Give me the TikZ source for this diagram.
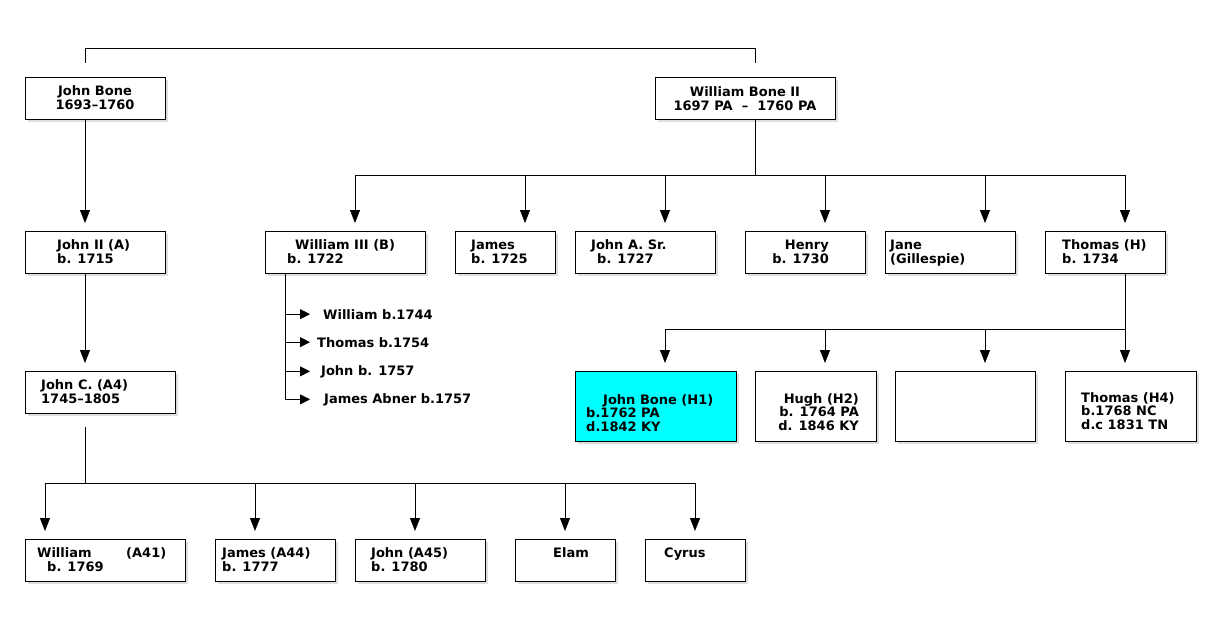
\documentclass[tikz,border=0pt]{standalone}
\usepackage{fontspec}
\setmainfont{DejaVu Sans}
\usetikzlibrary{arrows.meta,shadows,calc}
\definecolor{hilite}{HTML}{00FFFF}
\tikzset{
  box/.style={draw, line width=0.8pt, fill=white, anchor=north west, inner sep=0pt, outer sep=0pt,
    minimum height=42pt, drop shadow={shadow xshift=3pt, shadow yshift=-3pt, fill=black!25}},
  tall/.style={box, minimum height=70pt},
  txt/.style={font=\fontsize{13}{13.5}\selectfont\bfseries, inner sep=0pt, align=left, anchor=base west},
  txtc/.style={txt, align=center, anchor=base},
  txtr/.style={txt, align=right, anchor=base east},
  link/.style={line width=0.8pt},
  arr/.style={link, -{Triangle[length=13pt,width=10pt]}, shorten >=8pt},
  sarr/.style={link, -{Triangle[length=10pt,width=10pt]}}
}
\begin{document}
\begin{tikzpicture}[x=1pt,y=-1pt]
			%%%%% START %%%%%
			\useasboundingbox[fill=white] (0,0) rectangle (1220,616);
			
			% boxes
			\node[box, minimum width=140pt] (jb) at (25,77) {};
			\node[box, minimum width=180pt] (wb) at (655,77) {};
			\node[box, minimum width=140pt] (j2) at (25,231) {};
			\node[box, minimum width=150pt] (jc) at (25,371) {};
			\node[box, minimum width=160pt] (w3) at (265,231) {};
			\node[box, minimum width=100pt] (jm) at (455,231) {};
			\node[box, minimum width=140pt] (ja) at (575,231) {};
			\node[box, minimum width=120pt] (he) at (745,231) {};
			\node[box, minimum width=130pt] (jn) at (885,231) {};
			\node[box, minimum width=120pt] (th) at (1045,231) {};
			\node[tall, minimum width=161pt, fill=hilite] (h1) at (575,371) {};
			\node[tall, minimum width=121pt] (hu) at (755,371) {};
			\node[tall, minimum width=140pt] (ee) at (895,371) {};
			\node[tall, minimum width=131pt] (t4) at (1065,371) {};
			\node[box, minimum width=160pt] (wa) at (25,539) {};
			\node[box, minimum width=120pt] (jo) at (215,539) {};
			\node[box, minimum width=130pt] (jx) at (355,539) {};
			\node[box, minimum width=100pt] (el) at (515,539) {};
			\node[box, minimum width=100pt] (cy) at (645,539) {};
			
			% texts (placed by the baseline of their last line)
			\node[txtc] (jbt) at (95,109) {John Bone\\1693--1760};
			\node[txtc] (wbt) at (745,110) {William Bone II\\1697 PA\ \ --\ \ 1760 PA};
			\node[txt] (j2t) at (57,263) {John II (A)\\b. 1715};
			\node[txt] (jct) at (41,403) {John C. (A4)\\1745--1805};
			\node[txt] (w3t) at (287,263) {\hspace*{8pt}William III (B)\\b. 1722};
			\node[txt] (jmt) at (471,263) {James\\b. 1725};
			\node[txt] (jat) at (591,263) {John A. Sr.\\\hspace*{6pt}b. 1727};
			\node[txtr] (het) at (829,263) {Henry\\b. 1730};
			\node[txt] (jnt) at (890,263) {Jane\\(Gillespie)};
			\node[txt] (tht) at (1062,263) {Thomas (H)\\b. 1734};
			\node[txt] (h1t) at (586,431) {\hspace*{17pt}John Bone (H1)\\b.1762 PA\\d.1842 KY};
			\node[txtr] (hut) at (859,430) {Hugh (H2)\\b. 1764 PA\\d. 1846 KY};
			\node[txt] (t4t) at (1081,429) {Thomas (H4)\\b.1768 NC\\d.c 1831 TN};
			\node[txt] (wat) at (37,571) {\makebox[89pt][l]{William}(A41)\\\hspace*{10pt}b. 1769};
			\node[txt] (jot) at (222,571) {James (A44)\\b. 1777};
			\node[txt] (jxt) at (371,571) {John (A45)\\b. 1780};
			\node[txt] (elt) at (553,557) {Elam};
			\node[txt] (cyt) at (664,557) {Cyrus};
			
			% William III's children
			\node[txt] (kw1) at (323,319) {William b.1744};
			\node[txt] (kw2) at (317,347) {Thomas b.1754};
			\node[txt] (kw3) at (321,375) {John b. 1757};
			\node[txt] (kw4) at (324,403) {James Abner b.1757};
			
			% top bracket
			\draw[link] ([xshift=-10pt,yshift=14pt]jb.north) |- ([xshift=10pt,yshift=29pt]wb.north) -- ([xshift=10pt,yshift=14pt]wb.north);
			
			% line A
			\draw[arr] ([xshift=-10pt]jb.south) -- ([xshift=-10pt]j2.north);
			\draw[arr] ([xshift=-10pt]j2.south) -- ([xshift=-15pt]jc.north);
			\coordinate (jcbus) at (85,483);
			\draw[link] ([xshift=-15pt,yshift=-14pt]jc.south) -- (jcbus);
			\foreach \n/\s in {wa/-60, jo/-20, jx/-5, el/0, cy/0}
				\draw[arr] (jcbus) -| ([xshift=\s pt]\n.north);
			
			% William Bone II
			\coordinate (wbbus) at (755,175);
			\draw[link] ([xshift=10pt]wb.south) -- (wbbus);
			\foreach \n/\s in {w3/10, jm/20, ja/20, he/20, jn/35, th/20}
				\draw[arr] (wbbus) -| ([xshift=\s pt]\n.north);
			
			% Thomas (H)
			\coordinate (thbus) at (1125,329);
			\draw[link] ([xshift=20pt]th.south) -- (thbus);
			\foreach \n/\s in {h1/9.5, hu/9.5, ee/20, t4/-5.5}
				\draw[arr] (thbus) -| ([xshift=\s pt]\n.north);
			
			% William III list
			\coordinate (w3s) at ([xshift=20pt]w3.south west);
			\foreach \n/\s in {kw1/13, kw2/7, kw3/11, kw4/14}
				\draw[sarr] (w3s) |- ([xshift=-\s pt]\n.west);
			
			%%%%% END %%%%%
\end{tikzpicture}
\end{document}
